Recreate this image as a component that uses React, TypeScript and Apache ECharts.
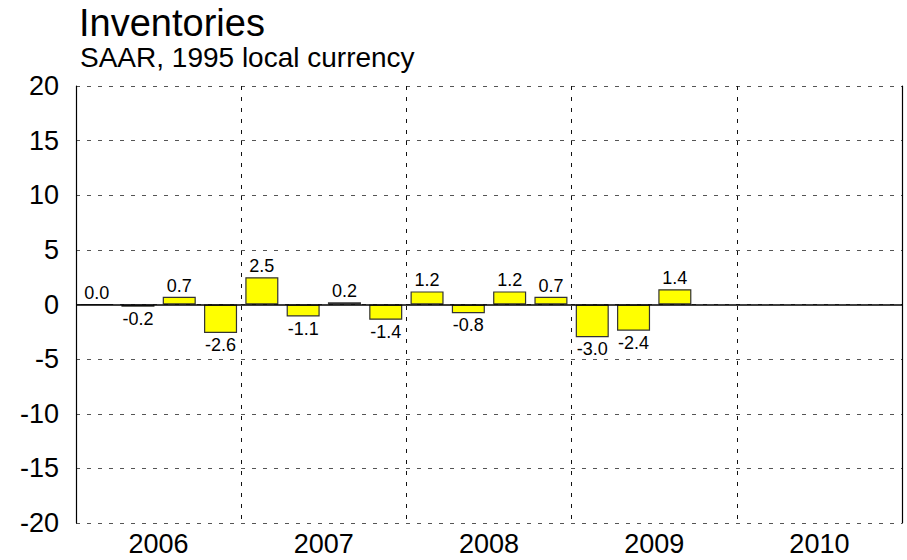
import React, { useEffect, useRef } from "react";
import * as echarts from "echarts";

const quarters: string[] = [
  "2006Q1", "2006Q2", "2006Q3", "2006Q4",
  "2007Q1", "2007Q2", "2007Q3", "2007Q4",
  "2008Q1", "2008Q2", "2008Q3", "2008Q4",
  "2009Q1", "2009Q2", "2009Q3", "2009Q4",
  "2010Q1", "2010Q2", "2010Q3", "2010Q4",
];
const values: (number | null)[] = [
  0.0, -0.2, 0.7, -2.6,
  2.5, -1.1, 0.2, -1.4,
  1.2, -0.8, 1.2, 0.7,
  -3.0, -2.4, 1.4, null,
  null, null, null, null,
];
const years: string[] = ["2006", "2007", "2008", "2009", "2010"];
const yMin = -20;
const yMax = 20;
const yStep = 5;

const titleText = "Inventories";
const subtitleText = "SAAR, 1995 local currency";

const FONT = "Liberation Sans, Arial, Helvetica, sans-serif";

export default function App() {
  const ref = useRef<HTMLDivElement>(null);
  useEffect(() => {
    if (!ref.current) return;
    const chart = echarts.init(ref.current, null, { renderer: "svg" });
    const data = values.map((v) =>
      v === null
        ? null
        : {
            value: v,
            label: {
              show: true,
              position: v >= 0 ? "top" : "bottom",
              distance: v >= 0 ? 2 : 3,
            },
          }
    );
    chart.setOption({
      animation: false,
      backgroundColor: "#ffffff",
      textStyle: { fontFamily: FONT },
      title: [
        {
          text: titleText,
          left: 79,
          top: 4,
          padding: 0,
          textStyle: { fontSize: 38, fontWeight: "normal", color: "#000", fontFamily: FONT },
        },
        {
          text: subtitleText,
          left: 80,
          top: 43,
          padding: 0,
          textStyle: { fontSize: 28, fontWeight: "normal", color: "#000", fontFamily: FONT },
        },
      ],
      grid: { left: 76, right: 5, top: 86, bottom: 37, containLabel: false },
      xAxis: [
        {
          type: "category",
          data: quarters,
          show: false,
          boundaryGap: true,
        },
        {
          type: "category",
          data: years,
          position: "bottom",
          boundaryGap: true,
          axisLine: { show: false },
          axisTick: { show: false },
          axisLabel: { fontSize: 27, color: "#000", margin: 7, fontFamily: FONT },
          splitLine: {
            show: true,
            lineStyle: { color: "#111", width: 1, type: [4, 7] },
          },
        },
      ],
      yAxis: [
        {
          type: "value",
          min: yMin,
          max: yMax,
          interval: yStep,
          axisLine: { show: true, lineStyle: { color: "#000", width: 1.2 } },
          axisTick: { show: false },
          axisLabel: { fontSize: 27, color: "#000", margin: 17, fontFamily: FONT },
          splitLine: {
            show: true,
            lineStyle: { color: "#555", width: 1, type: [4, 7] },
          },
        },
        {
          type: "value",
          min: yMin,
          max: yMax,
          interval: yStep,
          position: "right",
          axisLine: { show: true, lineStyle: { color: "#000", width: 1.2 } },
          axisTick: { show: false },
          axisLabel: { show: false },
          splitLine: { show: false },
        },
      ],
      series: [
        {
          type: "bar",
          xAxisIndex: 0,
          yAxisIndex: 0,
          data,
          barCategoryGap: "20%",
          itemStyle: { color: "#ffff00", borderColor: "#333", borderWidth: 1.2 },
          label: {
            show: true,
            fontSize: 18,
            color: "#000",
            fontFamily: FONT,
            formatter: (p: any) => Number(p.value).toFixed(1),
          },
          markLine: {
            silent: true,
            symbol: "none",
            label: { show: false },
            lineStyle: { color: "#000", width: 1.5, type: "solid" },
            data: [{ yAxis: 0 }],
          },
          z: 3,
        },
      ],
    });
    return () => chart.dispose();
  }, []);
  return (
    <div
      ref={ref}
      style={{ position: "fixed", left: 0, top: 0, width: 907, height: 560, background: "#fff" }}
    />
  );
}
